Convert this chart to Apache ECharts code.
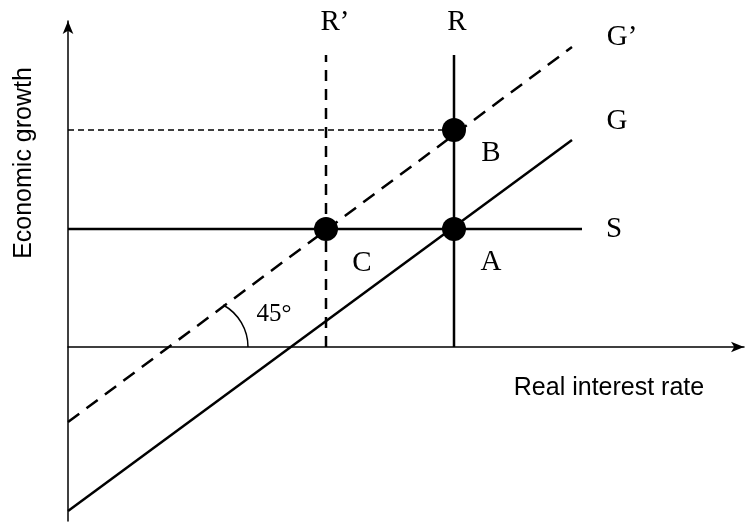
<!DOCTYPE html>
<html>
<head>
<meta charset="utf-8">
<script src="https://cdn.jsdelivr.net/npm/echarts@6/dist/echarts.min.js"></script>
<style>
  html, body { margin: 0; padding: 0; background: #fff; }
  #chart { width: 753px; height: 524px; }
</style>
</head>
<body>
<div id="chart"></div>
<script>
// schematic lines, in diagram units (origin where the axes cross)
const gLine = [[0, -16.4], [50.4, 20.7]];
const gPrimeLine = [[0, -7.5], [50.4, 30.0]];
const sLine = [[0, 11.8], [51.4, 11.8]];
const rLine = [[38.6, 0], [38.6, 29.2]];
const rPrimeLine = [[25.8, 0], [25.8, 29.2]];
const bLevel = [[0, 21.7], [38.6, 21.7]];
// equilibrium points A, B, C
const points = [[38.6, 11.8], [38.6, 21.7], [25.8, 11.8]];
// text labels and where they sit
const labelNames = ['R\u2019', 'R', 'G\u2019', 'G', 'S', 'B', 'A', 'C'];
const labelX = [26.7, 38.9, 55.4, 54.9, 54.6, 42.3, 42.3, 29.4];
const labelY = [32.5, 32.5, 31.0, 22.6, 11.8, 19.4, 8.5, 8.4];
const angleText = '45\u00b0';
const angleAnchor = [20.6, 3.3];
const arcCenter = [13.2, 0];

const chart = echarts.init(document.getElementById('chart'));

function seg(data, width, type) {
  return {
    type: 'line',
    data: data,
    symbol: 'none',
    silent: true,
    lineStyle: { color: '#000', width: width, type: type || 'solid', cap: 'butt' }
  };
}

const labelData = labelNames.map((n, i) => [labelX[i], labelY[i], n]);
labelData.push({ value: [angleAnchor[0], angleAnchor[1], angleText], label: { fontSize: 25 } });

chart.setOption({
  animation: false,
  backgroundColor: '#fff',
  grid: { left: 68, right: 9, top: 21, bottom: 3 },
  xAxis: {
    type: 'value', min: 0, max: 67.6,
    axisLine: { onZero: true, lineStyle: { color: '#000', width: 1.5 }, symbol: ['none', 'arrow'], symbolSize: [8, 13] },
    axisTick: { show: false }, axisLabel: { show: false }, splitLine: { show: false }
  },
  yAxis: {
    type: 'value', min: -17.4, max: 32.6,
    axisLine: { onZero: true, lineStyle: { color: '#000', width: 1.5 }, symbol: ['none', 'arrow'], symbolSize: [8, 13] },
    axisTick: { show: false }, axisLabel: { show: false }, splitLine: { show: false }
  },
  series: [
    seg(bLevel, 1.4, [6, 4]),
    seg(gLine, 2.5),
    seg(gPrimeLine, 2.5, [14, 9]),
    seg(sLine, 2.5),
    seg(rLine, 2.5),
    seg(rPrimeLine, 2.5, [11, 8]),
    {
      type: 'scatter',
      data: points,
      symbol: 'circle',
      symbolSize: 24,
      silent: true,
      itemStyle: { color: '#000', opacity: 1 }
    },
    {
      type: 'scatter',
      data: labelData,
      symbolSize: 0,
      silent: true,
      itemStyle: { opacity: 1 },
      label: {
        show: true,
        position: 'inside',
        formatter: p => p.value[2],
        color: '#000',
        fontFamily: 'Liberation Serif',
        fontSize: 29
      }
    }
  ]
});

const c = chart.convertToPixel({ gridIndex: 0 }, arcCenter);
chart.setOption({
  graphic: [
    {
      type: 'arc',
      shape: { cx: c[0], cy: c[1], r: 48, startAngle: -61 * Math.PI / 180, endAngle: 0, clockwise: true },
      style: { stroke: '#000', lineWidth: 1.5, fill: null }
    },
    {
      type: 'text',
      x: 24, y: 163, rotation: Math.PI / 2,
      style: { text: 'Economic growth', fill: '#000', font: '25px "Liberation Sans"', align: 'center', verticalAlign: 'middle' }
    },
    {
      type: 'text',
      x: 609, y: 388,
      style: { text: 'Real interest rate', fill: '#000', font: '25px "Liberation Sans"', align: 'center', verticalAlign: 'middle' }
    }
  ]
});
</script>
</body>
</html>
